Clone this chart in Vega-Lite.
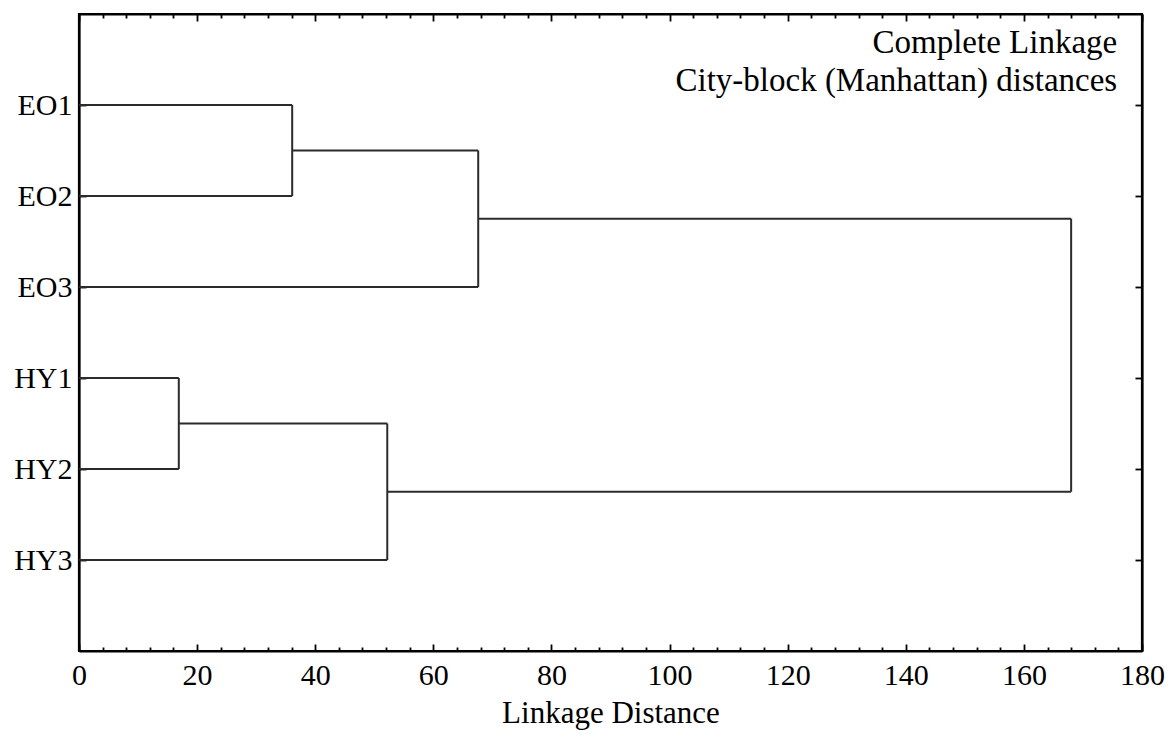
{
  "$schema": "https://vega.github.io/schema/vega-lite/v6.json",
  "width": 1063,
  "height": 637,
  "autosize": {"type": "none"},
  "padding": {"left": 79, "top": 14, "right": 28, "bottom": 89},
  "background": "white",
  "config": {
    "view": {"stroke": "black", "strokeWidth": 2.2},
    "font": "Liberation Serif",
    "axis": {"labelFont": "Liberation Serif", "titleFont": "Liberation Serif", "labelColor": "black", "titleColor": "black", "tickColor": "black", "domainColor": "black", "domainWidth": 2.2, "tickWidth": 1.8, "grid": false, "titleFontWeight": "normal"}
  },
  "layer": [
    {
      "data": {"values": [
        {"x": 0, "x2": 36.1, "y": 1, "y2": 1},
        {"x": 0, "x2": 36.1, "y": 2, "y2": 2},
        {"x": 36.1, "x2": 36.1, "y": 1, "y2": 2},
        {"x": 36.1, "x2": 67.6, "y": 1.5, "y2": 1.5},
        {"x": 0, "x2": 67.6, "y": 3, "y2": 3},
        {"x": 67.6, "x2": 67.6, "y": 1.5, "y2": 3},
        {"x": 67.6, "x2": 168.0, "y": 2.25, "y2": 2.25},
        {"x": 0, "x2": 16.9, "y": 4, "y2": 4},
        {"x": 0, "x2": 16.9, "y": 5, "y2": 5},
        {"x": 16.9, "x2": 16.9, "y": 4, "y2": 5},
        {"x": 16.9, "x2": 52.2, "y": 4.5, "y2": 4.5},
        {"x": 0, "x2": 52.2, "y": 6, "y2": 6},
        {"x": 52.2, "x2": 52.2, "y": 4.5, "y2": 6},
        {"x": 52.2, "x2": 168.0, "y": 5.25, "y2": 5.25},
        {"x": 168.0, "x2": 168.0, "y": 2.25, "y2": 5.25}
      ]},
      "mark": {"type": "rule", "color": "#2b2b2b", "strokeWidth": 2},
      "encoding": {
        "x": {"field": "x", "type": "quantitative", "scale": {"domain": [0, 180], "nice": false, "zero": false},
          "axis": {"orient": "bottom", "values": [0,4,8,12,16,20,24,28,32,36,40,44,48,52,56,60,64,68,72,76,80,84,88,92,96,100,104,108,112,116,120,124,128,132,136,140,144,148,152,156,160,164,168,172,176,180],
            "labelExpr": "datum.value % 20 === 0 ? datum.label : ''",
            "tickSize": {"condition": {"test": "datum.value % 20 === 0", "value": -7}, "value": -4},
            "labelFontSize": 30, "labelPadding": 16, "labelFlush": false, "labelOverlap": false,
            "title": "Linkage Distance", "titleFontSize": 31, "titlePadding": 5}},
        "x2": {"field": "x2"},
        "y": {"field": "y", "type": "quantitative", "scale": {"domain": [0, 7], "reverse": true, "nice": false, "zero": false},
          "axis": {"orient": "left", "values": [1,2,3,4,5,6],
            "labelExpr": "['','EO1','EO2','EO3','HY1','HY2','HY3'][datum.value]",
            "tickSize": -7, "labelFontSize": 30, "labelPadding": 14, "title": null}},
        "y2": {"field": "y2"}
      }
    },
    {
      "data": {"values": [
        {"note": "Complete Linkage", "nx": 175.8, "ny": 0.43},
        {"note": "City-block (Manhattan) distances", "nx": 175.8, "ny": 0.85}
      ]},
      "mark": {"type": "text", "align": "right", "baseline": "alphabetic", "fontSize": 33, "font": "Liberation Serif", "color": "black"},
      "encoding": {
        "text": {"field": "note"},
        "x": {"field": "nx", "type": "quantitative", "scale": {"domain": [0, 180], "nice": false, "zero": false},
          "axis": {"orient": "top", "values": [0,4,8,12,16,20,24,28,32,36,40,44,48,52,56,60,64,68,72,76,80,84,88,92,96,100,104,108,112,116,120,124,128,132,136,140,144,148,152,156,160,164,168,172,176,180],
            "labels": false, "title": null,
            "tickSize": {"condition": {"test": "datum.value % 20 === 0", "value": -7}, "value": -4}}},
        "y": {"field": "ny", "type": "quantitative", "scale": {"domain": [0, 7], "reverse": true, "nice": false, "zero": false},
          "axis": {"orient": "right", "values": [1,2,3,4,5,6], "labels": false, "title": null, "tickSize": -7}}
      }
    }
  ],
  "resolve": {"axis": {"x": "independent", "y": "independent"}}
}
